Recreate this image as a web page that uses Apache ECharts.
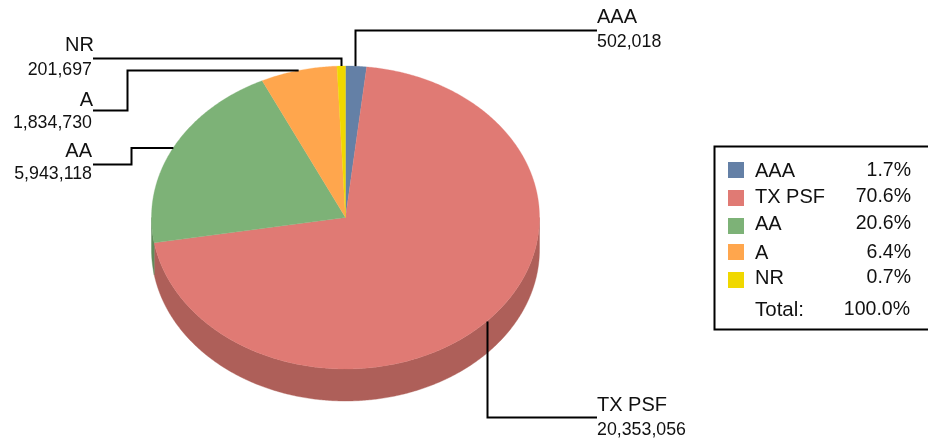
<!DOCTYPE html>
<html>
<head>
<meta charset="utf-8">
<style>html,body{margin:0;padding:0;background:#fff}#c{width:928px;height:440px}</style>
<script src="https://cdn.jsdelivr.net/npm/echarts@6/dist/echarts.min.js"></script>
</head>
<body>
<div id="c"></div>
<script>
const categories = ['AAA', 'TX PSF', 'AA', 'A', 'NR'];
const values = [502018, 20353056, 5943118, 1834730, 201697];
const valueLabels = ['502,018', '20,353,056', '5,943,118', '1,834,730', '201,697'];
const percentLabels = ['1.7%', '70.6%', '20.6%', '6.4%', '0.7%'];
const totalLabel = 'Total:';
const totalPercent = '100.0%';
const topColors = ['#6480A6', '#E07A74', '#7DB277', '#FFA64D', '#F0D800'];
const sideColors = ['#4F6685', '#AE5F59', '#5F8C5A', '#C9803A', '#BDAA00'];

const PIE = { cx: 345.5, cy: 217.5, rx: 194, ry: 151.5, depth: 32 };
const LEADERS = [
  { pts: [[355.5, 30.5], [597, 30.5]], align: 'left', x: 597, nameX: 597, nameY: 17, valueY: 42 },
  { pts: [[487.5, 417.5], [597, 417.5]], align: 'left', x: 597, nameX: 597, nameY: 405, valueY: 430 },
  { pts: [[131.5, 148], [131.5, 164.5], [93, 164.5]], align: 'right', x: 92, nameX: 92, nameY: 151, valueY: 174 },
  { pts: [[127.5, 70.5], [127.5, 110.5], [93, 110.5]], align: 'right', x: 92, nameX: 93, nameY: 100, valueY: 123 },
  { pts: [[341.5, 58.5], [93, 58.5]], align: 'right', x: 92, nameX: 94, nameY: 45, valueY: 70 }
];
const LEGEND = { x: 714.5, y: 146.5, w: 240, h: 183, swatchX: 728, swatchW: 16, nameX: 755, pctX: 911,
  swatchY: [170, 198, 226, 252, 280], textY: [171, 197, 224, 253, 278], totalY: 310 };
const FONT = '"Liberation Sans", Arial, sans-serif';

const total = values.reduce((a, b) => a + b, 0);
const toAngle = v => v / total * Math.PI * 2;
const pt = (a, dy) => [PIE.cx + PIE.rx * Math.sin(a), PIE.cy - PIE.ry * Math.cos(a) + (dy || 0)];

function arc(a0, a1, dy) {
  const out = [];
  const n = Math.max(2, Math.ceil((a1 - a0) / 0.008));
  for (let i = 0; i <= n; i++) out.push(pt(a0 + (a1 - a0) * i / n, dy));
  return out;
}

function renderItem(params, api) {
  const i = params.dataIndex;
  const a0 = toAngle(values.slice(0, i).reduce((a, b) => a + b, 0));
  const a1 = a0 + toAngle(api.value(0));
  const children = [];
  // side wall: only the front half of the rim (90deg..270deg from the top) shows
  const s0 = Math.max(a0, Math.PI / 2), s1 = Math.min(a1, Math.PI * 1.5);
  if (s1 > s0) {
    children.push({
      type: 'polygon', z2: 1,
      shape: { points: arc(s0, s1, 0).concat(arc(s0, s1, PIE.depth).reverse()) },
      style: { fill: sideColors[i], stroke: sideColors[i], lineWidth: 0.4 }
    });
  }
  children.push({
    type: 'polygon', z2: 2,
    shape: { points: [[PIE.cx, PIE.cy]].concat(arc(a0, a1, 0)) },
    style: { fill: topColors[i], stroke: topColors[i], lineWidth: 0.3 }
  });
  const L = LEADERS[i];
  const anchor = pt((a0 + a1) / 2, 0);
  const first = L.pts[0];
  const start = Math.abs(first[0] - anchor[0]) < 3 ? [first[0], anchor[1]] : [anchor[0], first[1]];
  children.push({
    type: 'polyline', z2: 3,
    shape: { points: [start].concat(L.pts) },
    style: { fill: null, stroke: '#000', lineWidth: 2 }
  });
  children.push({
    type: 'text', z2: 4,
    style: { text: categories[i], x: L.nameX, y: L.nameY, align: L.align, verticalAlign: 'middle', font: '20px ' + FONT, fill: '#111' }
  });
  children.push({
    type: 'text', z2: 4,
    style: { text: valueLabels[i], x: L.x, y: L.valueY, align: L.align, verticalAlign: 'middle', font: '17.8px ' + FONT, fill: '#111' }
  });
  return { type: 'group', children };
}

const legendEls = [
  { type: 'rect', shape: { x: LEGEND.x, y: LEGEND.y, width: LEGEND.w, height: LEGEND.h },
    style: { fill: '#fff', stroke: '#000', lineWidth: 2 } }
];
categories.forEach((name, i) => {
  legendEls.push({ type: 'rect', shape: { x: LEGEND.swatchX, y: LEGEND.swatchY[i] - 8, width: LEGEND.swatchW, height: 16 }, style: { fill: topColors[i] } });
  legendEls.push({ type: 'text', style: { text: name, x: LEGEND.nameX, y: LEGEND.textY[i], verticalAlign: 'middle', font: '20px ' + FONT, fill: '#111' } });
  legendEls.push({ type: 'text', style: { text: percentLabels[i], x: LEGEND.pctX, y: LEGEND.textY[i], align: 'right', verticalAlign: 'middle', font: '19.5px ' + FONT, fill: '#111' } });
});
legendEls.push({ type: 'text', style: { text: totalLabel, x: LEGEND.nameX, y: LEGEND.totalY, verticalAlign: 'middle', font: '20.5px ' + FONT, fill: '#111' } });
legendEls.push({ type: 'text', style: { text: totalPercent, x: LEGEND.pctX - 1, y: LEGEND.totalY, align: 'right', verticalAlign: 'middle', font: '19.5px ' + FONT, fill: '#111' } });

const chart = echarts.init(document.getElementById('c'), null, { renderer: 'canvas' });
chart.setOption({
  animation: false,
  backgroundColor: '#fff',
  tooltip: { show: false },
  graphic: { elements: legendEls },
  series: [{
    type: 'custom',
    name: 'Ratings',
    coordinateSystem: 'none',
    renderItem,
    silent: true,
    clip: false,
    data: values.map((v, i) => ({ name: categories[i], value: [v] }))
  }]
});
</script>
</body>
</html>
